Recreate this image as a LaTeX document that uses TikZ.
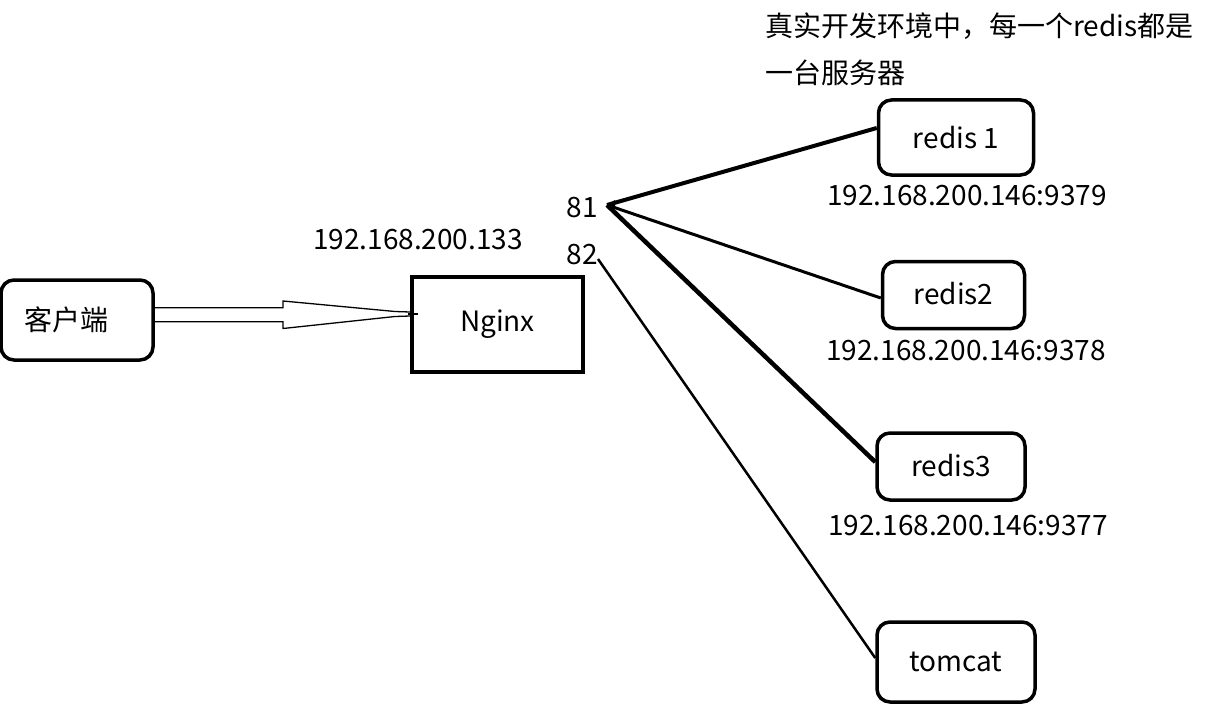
\documentclass[tikz,border=0pt]{standalone}
\usepackage{fontspec}
\setmainfont{Noto Sans CJK SC}
\begin{document}
\begin{tikzpicture}[x=1pt,y=-1pt,
  every node/.style={font=\fontsize{28}{32}\selectfont, inner sep=0pt},
  rbox/.style={draw, line width=3.5pt, rounded corners=13pt, anchor=center},
  sqbox/.style={draw, line width=4.5pt, anchor=center},
  lbl/.style={anchor=center}]
\useasboundingbox (0,0) rectangle (1206,706);
% boxes
\node[rbox, minimum width=152pt, minimum height=80pt] (client) at (77,320) {\hspace*{-22pt}客户端};
\node[sqbox, minimum width=171pt, minimum height=95pt] (nginx) at (497.5,324.5) {\raisebox{4pt}{Nginx}};
\node[rbox, minimum width=155pt, minimum height=75pt] (r1) at (956,137.5) {redis 1};
\node[rbox, minimum width=142pt, minimum height=67pt] (r2) at (953.5,295) {\raisebox{3pt}{redis2}};
\node[rbox, minimum width=148pt, minimum height=67pt] (r3) at (951,466.5) {\raisebox{3pt}{redis3}};
\node[rbox, minimum width=158pt, minimum height=80pt] (tc) at (956,662) {tomcat};
% labels
\node[lbl] (ipn) at (418,240) {192.168.200.133};
\node[lbl] (p81) at (582,208) {81};
\node[lbl] (p82) at (582,255) {82};
\node[lbl] (ip1) at (967,196) {192.168.200.146:9379};
\node[lbl] (ip2) at (966,351) {192.168.200.146:9378};
\node[lbl] (ip3) at (968,526) {192.168.200.146:9377};
\node[anchor=west] (t1) at (765,26) {真实开发环境中，每一个redis都是};
\node[anchor=west] (t2) at (765,73) {一台服务器};
% hollow arrow
\draw[line width=1.3pt, line join=miter]
  (client.east |- 0,307.7) -- (283,307.7) -- (283,301) -- (395,311.5) -- (410,312)
  (client.east |- 0,321.7) -- (283,321.7) -- (283,328.5) -- (395,316.5) -- (410,316);
\draw[line width=1.3pt] (408,314) -- (nginx.west |- 0,314) -- ++(8,0);
% connectors
\coordinate (j) at (607,205);
\coordinate (k) at (598,259);
\draw[line width=4pt] (j) -- (r1.west |- 0,128);
\draw[line width=3pt] (j) -- (r2.west |- 0,298);
\draw[line width=4.5pt] (j) -- (r3.west |- 0,462);
\draw[line width=2.5pt] (k) -- (tc.west |- 0,658);
\fill (j) -- ++(8,-5) -- ++(0,9) -- cycle;
\end{tikzpicture}
\end{document}
